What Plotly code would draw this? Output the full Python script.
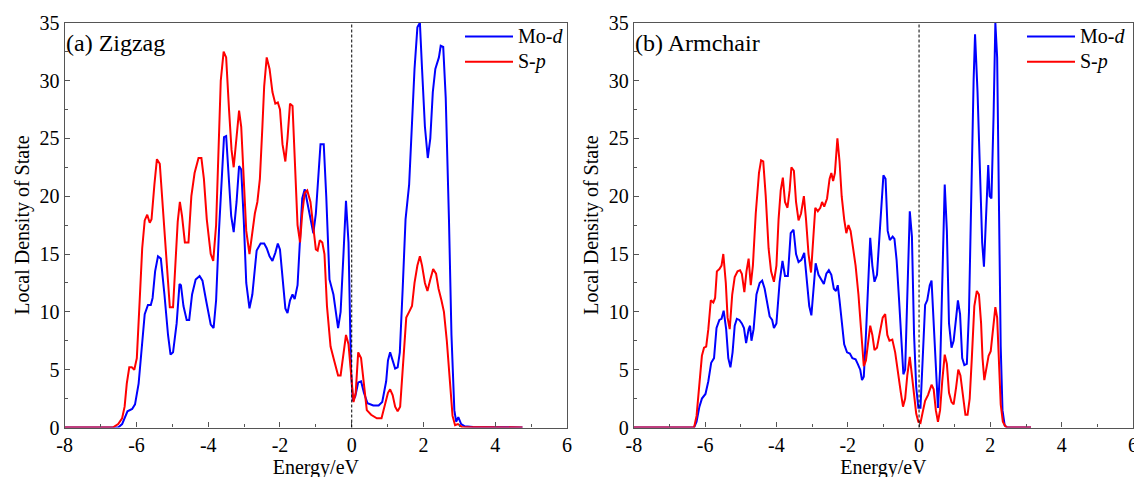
import plotly.graph_objects as go

# ---------------- data ----------------
# (a) Zigzag, Mo-d
E_zz_mo = [-8, -6.6, -6.51, -6.40, -6.25, -6.12, -6.04, -5.94, -5.84, -5.77, -5.68, -5.60, -5.55, -5.48, -5.40,
           -5.32, -5.22, -5.12, -5.05, -4.98, -4.88, -4.80, -4.76, -4.69, -4.60, -4.53, -4.45, -4.35, -4.24, -4.16,
           -4.06, -3.93, -3.85, -3.78, -3.70, -3.60, -3.56, -3.50, -3.42, -3.36, -3.29, -3.21, -3.14, -3.08, -3.01,
           -2.94, -2.85, -2.77, -2.65, -2.54, -2.44, -2.37, -2.29, -2.21, -2.13, -2.06, -2.00, -1.93, -1.85, -1.79,
           -1.72, -1.65, -1.59, -1.51, -1.44, -1.38, -1.31, -1.24, -1.15, -1.07, -1.00, -0.93, -0.87, -0.78, -0.71,
           -0.62, -0.51, -0.38, -0.31, -0.23, -0.16, -0.09, -0.02, 0.03, 0.10, 0.18, 0.26, 0.34, 0.44, 0.60,
           0.75, 0.85, 0.96, 1.01, 1.07, 1.14, 1.21, 1.28, 1.34, 1.42, 1.50, 1.60, 1.68, 1.75, 1.83,
           1.90, 1.96, 2.04, 2.12, 2.19, 2.26, 2.33, 2.43, 2.48, 2.55, 2.62, 2.71, 2.78, 2.86, 2.91,
           2.97, 3.05, 3.15, 3.38, 4.76]
zz_mo = [0, 0, 0, 0.3, 1.4, 1.6, 2.0, 3.8, 7.0, 9.8, 10.6, 10.6, 11.2, 13.5, 14.8,
         14.6, 11.5, 8.0, 6.3, 6.5, 9.0, 12.4, 12.3, 10.5, 9.3, 9.3, 11.5, 12.8, 13.1, 12.7,
         11.0, 8.9, 8.6, 11.0, 17.0, 23.0, 25.1, 25.2, 21.0, 18.3, 16.9, 19.5, 22.6, 22.3, 18.0,
         12.5, 10.3, 11.5, 15.3, 15.9, 15.9, 15.5, 14.8, 14.4, 15.1, 15.9, 15.4, 13.0, 10.3, 9.9,
         11.0, 11.5, 11.1, 12.3, 16.5, 19.8, 20.6, 19.5, 17.8, 16.8, 18.5, 21.5, 24.5, 24.5, 20.0,
         12.8, 11.5, 8.6, 10.0, 15.0, 19.6, 16.0, 5.0, 2.3, 2.7, 3.9, 4.0, 3.0, 2.1, 1.9,
         1.9, 2.2, 4.0, 5.8, 6.5, 5.8, 5.1, 5.2, 6.5, 12.0, 18.0, 21.0, 26.5, 31.0, 34.6,
         35.0, 31.0, 26.0, 23.3, 25.0, 29.0, 31.0, 32.0, 33.0, 32.9, 28.5, 18.0, 8.0, 1.5, 0.5,
         0.9, 0.3, 0.1, 0.05, 0]

# (a) Zigzag, S-p
E_zz_s = [-8, -6.66, -6.51, -6.40, -6.33, -6.27, -6.20, -6.13, -6.06, -5.99, -5.91, -5.84, -5.77, -5.70, -5.63,
          -5.58, -5.50, -5.43, -5.35, -5.27, -5.19, -5.12, -5.07, -4.98, -4.91, -4.85, -4.79, -4.73, -4.65, -4.55,
          -4.47, -4.38, -4.27, -4.19, -4.12, -4.04, -3.93, -3.86, -3.78, -3.71, -3.65, -3.57, -3.50, -3.42, -3.35,
          -3.29, -3.21, -3.14, -3.08, -3.01, -2.94, -2.85, -2.77, -2.70, -2.63, -2.56, -2.49, -2.44, -2.37, -2.29,
          -2.21, -2.13, -2.06, -2.00, -1.93, -1.85, -1.79, -1.72, -1.65, -1.59, -1.51, -1.44, -1.38, -1.31, -1.24,
          -1.15, -1.07, -1.00, -0.95, -0.89, -0.82, -0.76, -0.69, -0.59, -0.49, -0.38, -0.31, -0.23, -0.16, -0.09,
          -0.02, 0.05, 0.11, 0.18, 0.26, 0.34, 0.42, 0.54, 0.70, 0.83, 0.93, 1.01, 1.07, 1.14, 1.21,
          1.28, 1.35, 1.42, 1.52, 1.60, 1.68, 1.75, 1.83, 1.90, 1.96, 2.04, 2.11, 2.19, 2.27, 2.35,
          2.42, 2.50, 2.57, 2.65, 2.73, 2.81, 2.88, 2.96, 3.07, 4.76]
zz_s = [0, 0, 0.3, 0.8, 1.8, 3.8, 5.2, 5.2, 5.0, 6.0, 11.0, 15.5, 17.9, 18.4, 17.7,
        18.0, 21.0, 23.2, 22.8, 19.5, 15.5, 12.5, 10.4, 10.4, 14.0, 17.8, 19.5, 18.3, 16.0, 16.0,
        20.0, 22.0, 23.3, 23.3, 21.5, 18.0, 15.0, 14.4, 17.5, 24.0, 30.0, 32.5, 32.0, 27.5, 24.0,
        22.5, 25.0, 27.4, 26.0, 21.0, 17.0, 15.0, 17.0, 18.5, 19.5, 21.5, 26.0, 29.5, 32.0, 31.0,
        29.0, 28.0, 28.1, 27.5, 24.5, 23.0, 25.0, 28.0, 27.8, 23.0, 17.5, 16.0, 18.5, 20.3, 20.5,
        19.5, 17.0, 15.4, 15.3, 16.2, 16.0, 15.0, 10.5, 7.0, 5.8, 4.5, 4.5, 6.5, 8.0, 7.2,
        4.5, 2.2, 3.0, 6.5, 6.0, 3.5, 1.5, 1.1, 0.8, 0.8, 2.0, 3.0, 3.3, 2.8, 1.8,
        1.4, 1.8, 5.0, 9.5, 10.0, 10.5, 12.5, 14.0, 14.8, 14.0, 12.5, 11.8, 12.8, 13.7, 13.3,
        12.0, 11.0, 10.0, 7.5, 4.0, 1.0, 0.2, 0.3, 0.05, 0]

# (b) Armchair, Mo-d
E_ac_mo = [-8, -6.31, -6.24, -6.16, -6.09, -5.99, -5.91, -5.83, -5.75, -5.68, -5.60, -5.54, -5.48, -5.41, -5.35,
           -5.29, -5.23, -5.17, -5.11, -5.04, -4.97, -4.91, -4.85, -4.78, -4.74, -4.70, -4.64, -4.56, -4.47, -4.40,
           -4.33, -4.27, -4.19, -4.12, -4.07, -4.00, -3.91, -3.83, -3.76, -3.68, -3.60, -3.52, -3.45, -3.38, -3.30,
           -3.22, -3.15, -3.08, -3.02, -2.96, -2.90, -2.82, -2.74, -2.67, -2.60, -2.53, -2.46, -2.39, -2.33, -2.28,
           -2.23, -2.15, -2.10, -2.02, -1.94, -1.87, -1.78, -1.72, -1.65, -1.60, -1.55, -1.49, -1.43, -1.37, -1.31,
           -1.25, -1.18, -1.10, -1.03, -1.00, -0.94, -0.88, -0.82, -0.74, -0.69, -0.63, -0.56, -0.49, -0.44, -0.39,
           -0.34, -0.26, -0.20, -0.14, -0.08, -0.02, 0.04, 0.10, 0.17, 0.23, 0.30, 0.35, 0.41, 0.47, 0.53,
           0.59, 0.65, 0.72, 0.78, 0.84, 0.91, 0.97, 1.04, 1.09, 1.15, 1.21, 1.27, 1.34, 1.40, 1.46,
           1.53, 1.57, 1.64, 1.71, 1.77, 1.82, 1.88, 1.94, 1.98, 2.03, 2.09, 2.14, 2.19, 2.24, 2.29,
           2.34, 2.40, 2.47, 3.14]
ac_mo = [0, 0, 0.5, 1.8, 2.5, 2.9, 4.0, 5.6, 6.0, 8.6, 9.3, 9.4, 10.1, 8.5, 6.0,
         5.2, 6.5, 8.8, 9.4, 9.3, 9.0, 8.6, 7.3, 8.5, 8.8, 7.5, 8.5, 11.5, 12.5, 12.7,
         12.0, 10.8, 9.6, 9.3, 8.6, 9.0, 12.6, 14.4, 13.1, 13.1, 16.8, 17.1, 15.0, 14.3, 14.5,
         15.1, 13.0, 10.5, 9.7, 12.0, 14.2, 13.2, 12.8, 12.4, 13.3, 13.6, 13.2, 12.0, 11.8, 12.3,
         11.0, 8.5, 7.2, 6.5, 6.4, 6.0, 5.9, 5.5, 5.0, 4.1, 4.4, 8.0, 12.5, 16.4, 14.0,
         12.6, 13.2, 17.0, 20.5, 21.8, 21.5, 17.0, 16.2, 16.5, 16.3, 14.5, 11.0, 7.0, 4.6, 5.0,
         11.0, 18.7, 16.5, 8.0, 3.5, 1.7, 1.7, 6.0, 10.6, 11.0, 12.3, 12.7, 9.0, 4.5, 1.7,
         5.0, 12.0, 21.0, 17.0, 9.0, 6.9, 7.5, 9.5, 11.0, 9.8, 6.0, 5.4, 5.5, 10.0, 20.0,
         30.0, 34.0, 29.0, 22.0, 16.0, 13.9, 18.0, 22.7, 20.0, 19.8, 27.0, 35.0, 32.0, 20.0, 7.0,
         1.5, 0.2, 0, 0]

# (b) Armchair, S-p
E_ac_s = [-8, -6.31, -6.24, -6.16, -6.09, -6.03, -5.97, -5.91, -5.84, -5.77, -5.72, -5.67, -5.60, -5.54, -5.49,
          -5.42, -5.37, -5.31, -5.24, -5.17, -5.09, -5.02, -4.97, -4.90, -4.84, -4.78, -4.72, -4.66, -4.58, -4.49,
          -4.43, -4.37, -4.30, -4.22, -4.15, -4.07, -4.00, -3.94, -3.88, -3.82, -3.76, -3.69, -3.63, -3.58, -3.51,
          -3.45, -3.38, -3.31, -3.23, -3.17, -3.10, -3.03, -2.97, -2.91, -2.84, -2.77, -2.72, -2.66, -2.58, -2.51,
          -2.46, -2.41, -2.36, -2.29, -2.23, -2.17, -2.10, -2.04, -1.98, -1.92, -1.85, -1.78, -1.70, -1.61, -1.55,
          -1.49, -1.43, -1.37, -1.31, -1.25, -1.18, -1.10, -1.02, -0.95, -0.89, -0.83, -0.75, -0.67, -0.59, -0.51,
          -0.45, -0.39, -0.33, -0.26, -0.20, -0.14, -0.08, -0.02, 0.04, 0.10, 0.17, 0.25, 0.35, 0.41, 0.47,
          0.53, 0.59, 0.65, 0.72, 0.78, 0.84, 0.91, 0.97, 1.04, 1.10, 1.16, 1.23, 1.30, 1.36, 1.42,
          1.48, 1.55, 1.62, 1.68, 1.74, 1.78, 1.83, 1.89, 1.95, 2.01, 2.07, 2.14, 2.19, 2.24, 2.29,
          2.35, 2.42, 2.47, 3.14]
ac_s = [0, 0, 1.0, 4.0, 6.2, 6.9, 7.0, 8.5, 11.0, 10.8, 11.2, 13.5, 13.7, 14.0, 15.0,
        12.5, 9.5, 8.5, 11.5, 13.0, 13.5, 13.6, 13.3, 11.7, 13.5, 14.6, 12.3, 14.0, 18.5, 22.0,
        23.1, 23.0, 20.0, 15.5, 13.5, 12.6, 14.0, 18.0, 20.5, 21.6, 19.5, 19.0, 20.5, 22.5, 22.2,
        19.5, 17.9, 18.5, 20.0, 18.0, 15.0, 13.4, 16.0, 19.0, 18.7, 19.0, 19.5, 19.1, 19.8, 21.5,
        22.0, 21.3, 22.0, 25.0, 23.0, 20.0, 18.0, 16.8, 17.5, 17.0, 15.5, 14.0, 11.5, 8.0, 5.3,
        5.8, 7.5, 8.8, 8.0, 6.7, 6.9, 8.3, 9.5, 9.8, 8.0, 7.5, 7.6, 6.5, 4.5, 3.0,
        1.8, 2.5, 4.5, 6.1, 4.5, 2.5, 1.2, 0.5, 0.4, 1.3, 2.3, 2.8, 3.7, 3.3, 1.5,
        0.5, 1.5, 4.0, 6.3, 5.5, 3.0, 2.2, 2.0, 3.5, 5.0, 4.5, 2.5, 1.1, 1.1, 2.5,
        6.0, 10.5, 11.8, 11.5, 9.0, 6.0, 4.1, 5.0, 6.2, 6.6, 8.5, 10.4, 9.5, 6.0, 2.0,
        0.5, 0.1, 0, 0]

SERIES_NAMES = ["Mo-<i>d</i>", "S-<i>p</i>"]
PANEL_LABELS = ["(a) Zigzag", "(b) Armchair"]
X_TITLE = "Energy/eV"
Y_TITLE = "Local Density of State"
X_TICKS = [-8, -6, -4, -2, 0, 2, 4, 6]
X_TICKTEXT = ["-8", "-6", "-4", "-2", "0", "2", "4", "6"]
Y_TICKS = [0, 5, 10, 15, 20, 25, 30, 35]
X_RANGE = [-8, 6]
Y_RANGE = [0, 35]
FERMI = 0

# ---------------- styling ----------------
FONT = "Times New Roman, Liberation Serif, serif"
BLUE = "#0000FF"
RED = "#FF0000"
AXC = "#555555"

fig = go.Figure()

panels = [
    (E_zz_mo, zz_mo, E_zz_s, zz_s, "x", "y", "legend"),
    (E_ac_mo, ac_mo, E_ac_s, ac_s, "x2", "y2", "legend2"),
]
for e_mo, v_mo, e_s, v_s, xa, ya, lg in panels:
    fig.add_trace(go.Scatter(x=e_mo, y=v_mo, mode="lines",
                             name=f'<span style="font-size:20px">{SERIES_NAMES[0]}</span>',
                             line=dict(color=BLUE, width=2), xaxis=xa, yaxis=ya, legend=lg))
    fig.add_trace(go.Scatter(x=e_s, y=v_s, mode="lines",
                             name=f'<span style="font-size:20px">{SERIES_NAMES[1]}</span>',
                             line=dict(color=RED, width=2), xaxis=xa, yaxis=ya, legend=lg))

tickfont = dict(family=FONT, size=20, color="black")
common = dict(showline=True, linecolor=AXC, linewidth=1.3, mirror=True, showgrid=False,
              zeroline=False, ticks="inside", ticklen=5, tickwidth=1, tickcolor=AXC,
              tickfont=tickfont, automargin=False)

xcommon = dict(common, range=X_RANGE, tickmode="array", tickvals=X_TICKS, ticktext=X_TICKTEXT,
               ticklabelstandoff=-1,
               minor=dict(ticks="inside", ticklen=3, dtick=1, tick0=-8, tickcolor=AXC),
               title=dict(text=X_TITLE, font=dict(family=FONT, size=20, color="black"), standoff=0))
ycommon = dict(common, range=Y_RANGE, tickmode="array", tickvals=Y_TICKS,
               minor=dict(ticks="inside", ticklen=3, dtick=2.5, tick0=0, tickcolor=AXC),
               title=dict(text=Y_TITLE, font=dict(family=FONT, size=20, color="black"), standoff=4))

# page is shown with an 8px body margin: positions below are reference pixels minus 8
W, H = 1142, 477
OFF = 8
def dx(px):
    return (px - OFF) / W
def dy(py):
    return 1 - (py - OFF) / H

xd1 = [dx(64.7), dx(567)]
xd2 = [dx(633.8), dx(1133)]
yd = [dy(427.5), dy(22.7)]

legend_common = dict(xanchor="left", yanchor="top", bgcolor="rgba(0,0,0,0)",
                     font=dict(family=FONT, size=17, color="black"),
                     itemwidth=48, tracegroupgap=0)

fig.update_layout(
    width=W, height=H, autosize=False,
    margin=dict(l=0, r=0, t=0, b=0, autoexpand=False),
    paper_bgcolor="white", plot_bgcolor="white",
    xaxis=dict(xcommon, domain=xd1, anchor="y"),
    yaxis=dict(ycommon, domain=yd, anchor="x"),
    xaxis2=dict(xcommon, domain=xd2, anchor="y2"),
    yaxis2=dict(ycommon, domain=yd, anchor="x2"),
    legend=dict(legend_common, x=dx(460), y=dy(19)),
    legend2=dict(legend_common, x=dx(1022), y=dy(19)),
    showlegend=True,
)

for i, (xa, ya) in enumerate([("x", "y"), ("x2", "y2")]):
    fig.add_shape(type="line", x0=FERMI, x1=FERMI, y0=0, y1=1, xref=xa, yref=f"{ya} domain",
                  line=dict(color="black", width=1, dash="3px,2px"))
    fig.add_annotation(text=PANEL_LABELS[i], xref=f"{xa} domain", yref=f"{ya} domain",
                       x=-0.002, y=0.95, xanchor="left", yanchor="middle", showarrow=False,
                       font=dict(family=FONT, size=24, color="black"))

fig.write_html("out.html")
